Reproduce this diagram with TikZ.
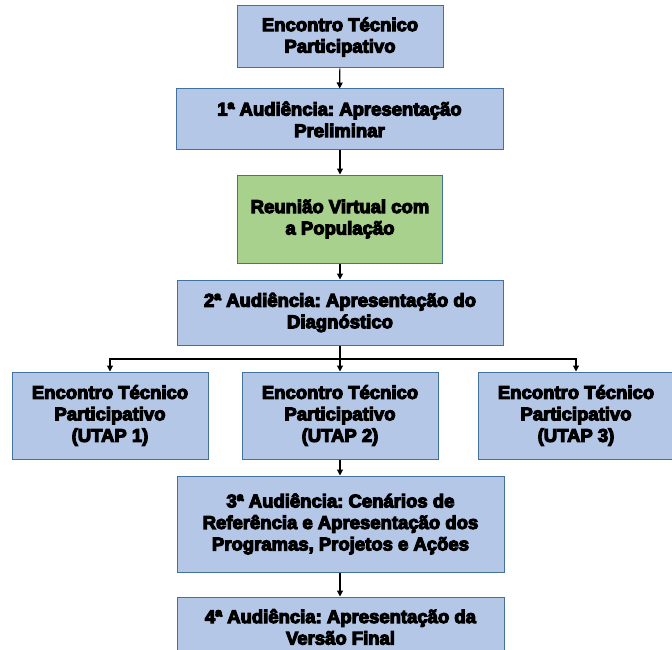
\documentclass[tikz,border=0pt]{standalone}
\usepackage{fontspec}
\setmainfont{Liberation Sans}
\newfontfamily\heavy[FakeBold=6]{Liberation Sans Bold}
\usetikzlibrary{arrows.meta}
\definecolor{boxblue}{HTML}{B4C7E7}
\definecolor{boxgreen}{HTML}{A9D18E}
\definecolor{boxline}{HTML}{41719C}
\frenchspacing
\begin{document}
\begin{tikzpicture}[x=1pt,y=-1pt,
  box/.style={draw=boxline, fill=boxblue, line width=1pt, align=center,
    font=\heavy\fontsize{18.5}{21.5}\selectfont\frenchspacing, inner sep=0pt},
  conn/.style={line width=1.1pt, -{Triangle[length=6pt,width=6pt]}}]
\useasboundingbox (0,0) rectangle (672,650);
\node[box, minimum width=206pt, minimum height=62pt] (b1) at (340,37) {Encontro Técnico\\Participativo};
\node[box, minimum width=327pt, minimum height=61pt] (b2) at (339.5,119.5) {1ª Audiência: Apresentação\\Preliminar};
\node[box, fill=boxgreen, minimum width=205pt, minimum height=88pt] (b3) at (340,219) {Reunião Virtual com\\a População};
\node[box, minimum width=326pt, minimum height=65pt] (b4) at (340,312.5) {2ª Audiência: Apresentação do\\Diagnóstico};
\node[box, minimum width=196pt, minimum height=87pt] (ua) at (110,415.5) {Encontro Técnico\\Participativo\\(UTAP 1)};
\node[box, minimum width=196pt, minimum height=87pt] (ub) at (340,415.5) {Encontro Técnico\\Participativo\\(UTAP 2)};
\node[box, minimum width=195pt, minimum height=87pt] (uc) at (576,415.5) {Encontro Técnico\\Participativo\\(UTAP 3)};
\node[box, minimum width=327pt, minimum height=96pt] (b5) at (340.5,524) {3ª Audiência: Cenários de\\Referência e Apresentação dos\\Programas, Projetos e Ações};
\node[box, minimum width=327pt, minimum height=60pt] (b6) at (340.5,627) {4ª Audiência: Apresentação da\\Versão Final};
\coordinate (split) at (340,359);
\draw[conn] (b1) -- (b2);
\draw[conn] (b2.south -| b3.north) -- (b3);
\draw[conn] (b3) -- (b4.north -| b3.south);
\draw[line width=1.1pt] (b4.south -| split) -- (split);
\draw[conn] (split) -| (ua.north);
\draw[conn] (split) -| (uc.north);
\draw[conn] (split) -- (ub.north);
\draw[conn] (ub.south) -- (ub.south |- b5.north);
\draw[conn] (b5.south -| ub.south) -- (b6.north -| ub.south);
\end{tikzpicture}
\end{document}
